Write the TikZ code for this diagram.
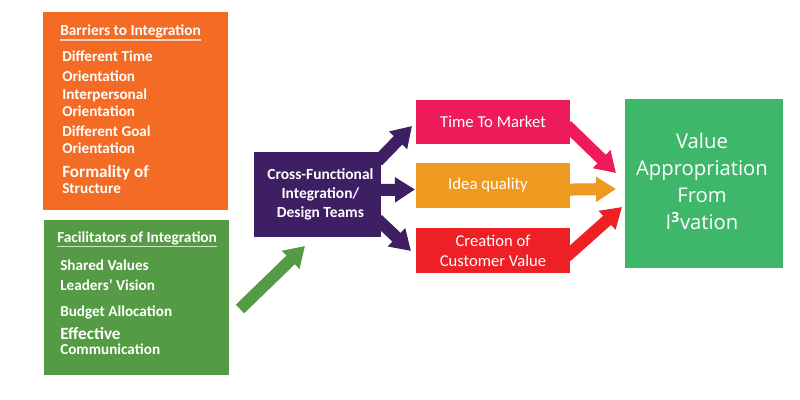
\documentclass[tikz,border=0pt]{standalone}
\usepackage{fontspec}
\setmainfont{Carlito}
\newfontfamily\valuefont{Open Sans}
\newcommand{\tilig}{{\addfontfeature{Ligatures=Rare}ti}}
\usetikzlibrary{arrows.meta,calc}
\definecolor{barrierorange}{HTML}{F36B24}
\definecolor{facgreen}{HTML}{559B45}
\definecolor{teampurple}{HTML}{3F1F63}
\definecolor{marketpink}{HTML}{EE1B5B}
\definecolor{ideaamber}{HTML}{EE9A20}
\definecolor{customerred}{HTML}{EE2026}
\definecolor{valuegreen}{HTML}{3EB76A}
\tikzset{
	box/.style={inner sep=0, text=white, align=center},
	head/.style={anchor=base west, inner sep=0, text=white, font=\bfseries\fontsize{10.9}{12}\selectfont},
	item/.style={anchor=base west, inner sep=0, text=white, font=\bfseries\fontsize{10.8}{12}\selectfont},
	bigitem/.style={anchor=base west, inner sep=0, text=white, font=\bfseries\fontsize{12.2}{12}\selectfont},
	rule/.style={line width=0.03cm, color=white, opacity=0.7},
	thickarrow/.style={line width=0.3cm, shorten <=-0.12cm, -{Triangle[length=0.5cm, width=0.6cm]}},
}
\begin{document}
\begin{tikzpicture}
			%%%%% START %%%%%
			\useasboundingbox (0, 0) rectangle (20, 10);
			
			% left boxes
			\node[box, fill=barrierorange, minimum width=4.625cm, minimum height=4.95cm] (barriers) at (3.39, 7.225) {};
			\node[box, fill=facgreen, minimum width=4.625cm, minimum height=3.875cm] (facilitators) at (3.4, 2.5625) {};
			
			\node[head] (barriershead) at (1.5, 9.1) {Barriers to Integra\tilig on};
			\draw[rule] ($(barriershead.base west)+(0, -0.1)$) -- ($(barriershead.base east)+(0, -0.1)$);
			\node[item] (time) at (1.55, 8.45) {Different Time};
			\node[item] (timeb) at (1.55, 7.95) {Orienta\tilig on};
			\node[item] (inter) at (1.55, 7.5) {Interpersonal};
			\node[item] (interb) at (1.55, 7.075) {Orienta\tilig on};
			\node[item] (goal) at (1.55, 6.575) {Different Goal};
			\node[item] (goalb) at (1.55, 6.15) {Orienta\tilig on};
			\node[bigitem] (formality) at (1.55, 5.55) {Formality of};
			\node[item] (formalityb) at (1.55, 5.15) {Structure};
			
			\node[head] (fachead) at (1.425, 3.925) {Facilitators of Integra\tilig on};
			\draw[rule] ($(fachead.base west)+(0, -0.08)$) -- ($(fachead.base east)+(0, -0.08)$);
			\node[item] (shared) at (1.5, 3.225) {Shared Values};
			\node[item] (vision) at (1.5, 2.725) {Leaders’ Vision};
			\node[item] (budget) at (1.5, 2.075) {Budget Alloca\tilig on};
			\node[bigitem] (effective) at (1.5, 1.5) {Effec\tilig ve};
			\node[item] (effectiveb) at (1.5, 1.125) {Communica\tilig on};
			
			% middle boxes
			\node[box, fill=teampurple, minimum width=3.16cm, minimum height=2.125cm] (teams) at (7.94, 5.14) {};
			\node[box, font=\bfseries\fontsize{11}{13.5}\selectfont] (teamstext) at (8.01, 5.14) {Cross-Func\tilig onal\\Integra\tilig on/\\Design Teams};
			\node[box, fill=marketpink, minimum width=3.85cm, minimum height=1.1cm, font=\fontsize{11.9}{14}\selectfont] (market) at (12.325, 6.95) {Time To Market};
			\node[box, fill=ideaamber, minimum width=3.85cm, minimum height=1.125cm] (quality) at (12.325, 5.3625) {};
			\node[box, font=\fontsize{11.9}{14}\selectfont] (qualitytext) at (12.2, 5.375) {Idea quality};
			\node[box, fill=customerred, minimum width=3.85cm, minimum height=1.125cm, font=\fontsize{11.8}{14.2}\selectfont] (customer) at (12.325, 3.7375) {Creation of\\Customer Value};
			
			% right box
			\node[box, fill=valuegreen, minimum width=3.95cm, minimum height=4.225cm] (appropriation) at (17.6, 5.4125) {};
			\node[box, font=\valuefont\fontsize{14.4}{19.2}\selectfont] (appropriationtext) at (17.55, 5.46) {Value\\Appropriation\\From\\I\textsuperscript{\bfseries 3}vation};
			
			% arrow ends
			\coordinate (facstart) at (6, 2.275);
			\coordinate (facend) at (7.625, 3.85);
			\coordinate (teamsup) at (10.3, 6.85);
			\coordinate (teamsmid) at (10.375, 5.2625);
			\coordinate (teamsdown) at (10.275, 3.725);
			\coordinate (marketend) at (15.4, 5.675);
			\coordinate (qualityend) at (15.4, 5.275);
			\coordinate (customerend) at (15.55, 4.825);
			
			\draw[thickarrow, color=facgreen, shorten <=0] (facstart) -- (facend);
			\draw[thickarrow, color=teampurple] (teams.30) -- (teamsup);
			\draw[thickarrow, color=teampurple] (teams.4.5) -- (teamsmid);
			\draw[thickarrow, color=teampurple] (teams.-24) -- (teamsdown);
			\draw[thickarrow, color=marketpink] (market.-5) -- (marketend);
			\draw[thickarrow, color=ideaamber] (quality.-3) -- (qualityend);
			\draw[thickarrow, color=customerred] (customer.-2) -- (customerend);
			
			%%%%% END %%%%%
\end{tikzpicture}
\end{document}
